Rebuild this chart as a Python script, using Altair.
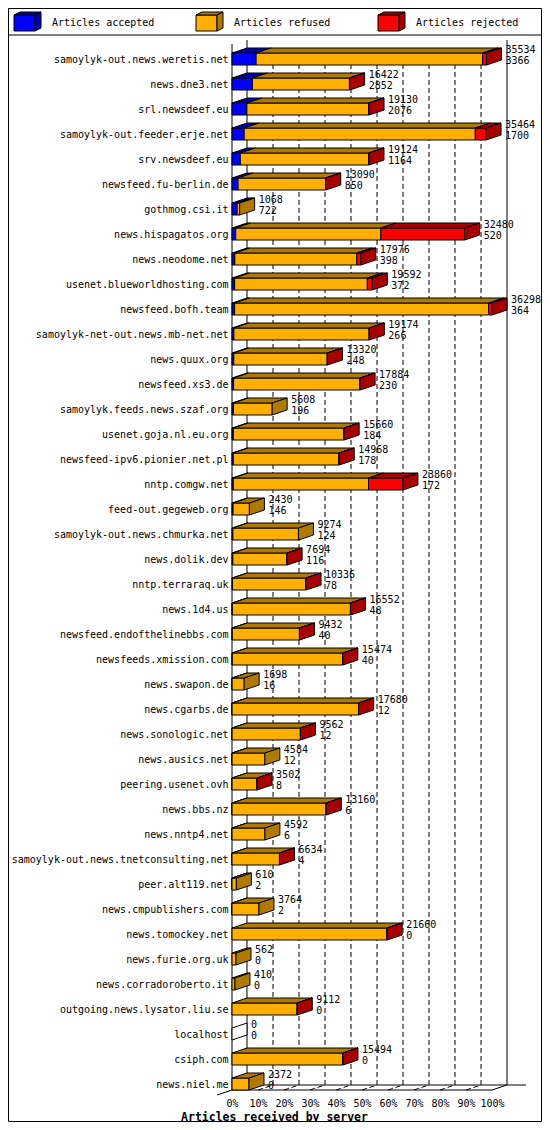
import json

import altair as alt
import pandas as pd

# servers, top to bottom
hosts = [
    "samoylyk-out.news.weretis.net", "news.dne3.net", "srl.newsdeef.eu",
    "samoylyk-out.feeder.erje.net", "srv.newsdeef.eu", "newsfeed.fu-berlin.de",
    "gothmog.csi.it", "news.hispagatos.org", "news.neodome.net",
    "usenet.blueworldhosting.com", "newsfeed.bofh.team",
    "samoylyk-net-out.news.mb-net.net", "news.quux.org", "newsfeed.xs3.de",
    "samoylyk.feeds.news.szaf.org", "usenet.goja.nl.eu.org",
    "newsfeed-ipv6.pionier.net.pl", "nntp.comgw.net", "feed-out.gegeweb.org",
    "samoylyk-out.news.chmurka.net", "news.dolik.dev", "nntp.terraraq.uk",
    "news.1d4.us", "newsfeed.endofthelinebbs.com", "newsfeeds.xmission.com",
    "news.swapon.de", "news.cgarbs.de", "news.sonologic.net", "news.ausics.net",
    "peering.usenet.ovh", "news.bbs.nz", "news.nntp4.net",
    "samoylyk-out.news.tnetconsulting.net", "peer.alt119.net",
    "news.cmpublishers.com", "news.tomockey.net", "news.furie.org.uk",
    "news.corradoroberto.it", "outgoing.news.lysator.liu.se", "localhost",
    "csiph.com", "news.niel.me",
]
offered = [
    35534, 16422, 19130, 35464, 19124, 13090, 1068, 32480, 17976, 19592, 36298,
    19174, 13320, 17884, 5608, 15660, 14968, 23860, 2430, 9274, 7694, 10336,
    16552, 9432, 15474, 1698, 17680, 9562, 4584, 3502, 13160, 4592, 6634, 610,
    3764, 21660, 562, 410, 9112, 0, 15494, 2372,
]
accepted = [
    3366, 2852, 2076, 1700, 1164, 850, 722, 520, 398, 372, 364, 266, 248, 230,
    196, 184, 178, 172, 146, 124, 116, 78, 48, 40, 40, 16, 12, 12, 12, 8, 6, 6,
    4, 2, 2, 0, 0, 0, 0, 0, 0, 0,
]
# estimated from the width of the red part of each bar
rejected = [
    550, 30, 40, 1500, 30, 30, 0, 11700, 550, 700, 460, 30, 30, 30, 0, 30, 30,
    4800, 0, 0, 20, 20, 20, 20, 20, 0, 20, 20, 0, 10, 20, 0, 10, 0, 0, 20, 0, 0,
    20, 0, 20, 0,
]
legend_labels = ["Articles accepted", "Articles refused", "Articles rejected"]
pct_ticks = [0, 10, 20, 30, 40, 50, 60, 70, 80, 90, 100]

FRONT = ["#0000ff", "#ffaf00", "#ff0000"]
DARK = ["#0000a8", "#b07a00", "#a80000"]
FONT = "DejaVu Sans Mono"

# layout in pixels (chart local)
LEFT = 224        # front 0%
PX = 2.6          # px per percent
ROW_PX = 25
ROW0 = 51         # centre of first row
TOP = 32
W = 275
H = 1050
DX = 15 / PX      # 3d depth in percent
DY = 5 / ROW_PX   # 3d depth in rows
HALF = 6 / ROW_PX


def to_x(lx):
    return (lx - LEFT) / PX


def to_y(ly):
    return (ly - ROW0) / ROW_PX


Y_TOP = to_y(TOP)
Y_FLOOR = to_y(TOP + H)
Y_BACK = Y_FLOOR - DY
X_MAX = W / PX

big = max(offered)
fronts, polys, texts = [], [], []


def add_poly(points, fill):
    pid = len(set(p["id"] for p in polys))
    for o, (px, py) in enumerate(points + points[:1]):
        polys.append({"id": pid, "o": o, "x": px, "y": py, "fill": fill})


for i, host in enumerate(hosts):
    parts = [accepted[i], offered[i] - accepted[i] - rejected[i], rejected[i]]
    x = 0.0
    last = None
    for k, v in enumerate(parts):
        if v <= 0:
            continue
        w = v / big * 100
        fronts.append({"x": x, "x2": x + w, "y": i - HALF, "y2": i + HALF, "fill": FRONT[k]})
        add_poly([(x, i - HALF), (x + w, i - HALF), (x + w + DX, i - HALF - DY),
                  (x + DX, i - HALF - DY)], DARK[k])
        x += w
        last = k
    add_poly([(x, i - HALF), (x + DX, i - HALF - DY), (x + DX, i + HALF - DY),
              (x, i + HALF)], DARK[last] if last is not None else "white")
    texts.append({"x": x + DX, "y": i - 0.38, "t": str(offered[i])})
    texts.append({"x": x + DX, "y": i + 0.08, "t": str(accepted[i])})

# legend cubes
for j, lab in enumerate(legend_labels):
    lx = 6 + j * 182
    x0, x1, d = to_x(lx), to_x(lx + 21), 6 / PX
    y0, y1, yt = to_y(7), to_y(23), to_y(4)
    fronts.append({"x": x0, "x2": x1, "y": y0, "y2": y1, "fill": FRONT[j]})
    add_poly([(x0, y0), (x1, y0), (x1 + d, yt), (x0 + d, yt)], DARK[j])
    add_poly([(x1, y0), (x1 + d, yt), (x1 + d, to_y(20)), (x1, y1)], DARK[j])
    texts.append({"x": to_x(lx + 34), "y": to_y(15), "t": lab})

solid = pd.DataFrame([
    {"x": 0, "y": to_y(36), "x2": 0, "y2": Y_FLOOR},
    {"x": DX, "y": Y_TOP, "x2": DX, "y2": Y_BACK},
    {"x": 100 + DX, "y": Y_TOP, "x2": 100 + DX, "y2": Y_BACK},
    {"x": 0, "y": Y_FLOOR, "x2": 100, "y2": Y_FLOOR},
    {"x": DX, "y": Y_BACK, "x2": 100 + DX + 19 / PX, "y2": Y_BACK},
    {"x": -DX, "y": Y_FLOOR + DY, "x2": DX, "y2": Y_BACK},
    {"x": 100, "y": Y_FLOOR, "x2": 100 + DX, "y2": Y_BACK},
    {"x": to_x(0), "y": to_y(27), "x2": to_x(534), "y2": to_y(27)},
])
dashed = pd.DataFrame(
    [{"x": p + DX, "y": -HALF - DY, "x2": p + DX, "y2": Y_BACK} for p in pct_ticks[1:-1]]
    + [{"x": p, "y": Y_FLOOR, "x2": p + DX, "y2": Y_BACK} for p in pct_ticks[1:-1]]
)
frame = pd.DataFrame([{"x": to_x(0.5), "x2": to_x(533.5), "y": to_y(0.5), "y2": to_y(1113.5)}])

xs = alt.Scale(domain=[0, X_MAX], zero=False, nice=False)
ys = alt.Scale(domain=[Y_TOP, Y_FLOOR], zero=False, nice=False, reverse=True)

x_axis = alt.Axis(
    values=pct_ticks, labelExpr="datum.value + '%'", domain=False, ticks=False,
    tickSize=0, grid=False, labelPadding=8, labelFlush=False, labelOverlap=False,
    labelFont=FONT, labelFontSize=10, labelColor="black",
    title="Articles received by server", titleFont=FONT, titleFontSize=11.5,
    titleFontWeight="bold", titleColor="black", titleX=42, titleY=27,
    titleAlign="center", titleBaseline="middle",
)
y_axis = alt.Axis(
    values=list(range(len(hosts))), labelExpr=json.dumps(hosts) + "[datum.value]",
    domain=False, ticks=False, tickSize=0, grid=False, labelPadding=4,
    labelOverlap=False, labelFlush=False, labelLimit=0, labelFont=FONT,
    labelFontSize=10, labelColor="black", title="",
)
X = alt.X("x:Q", scale=xs, axis=x_axis, title="Articles received by server")
Y = alt.Y("y:Q", scale=ys, axis=y_axis, title="")

border = alt.Chart(frame).mark_rect(fill="transparent", stroke="black", strokeWidth=1).encode(
    x=X, x2="x2:Q", y=Y, y2="y2:Q",
)
grid = alt.Chart(dashed).mark_rule(color="black", strokeWidth=1, strokeDash=[5, 3]).encode(
    x=X, x2="x2:Q", y=Y, y2="y2:Q",
)
walls = alt.Chart(solid).mark_rule(color="black", strokeWidth=1).encode(
    x=X, x2="x2:Q", y=Y, y2="y2:Q",
)
front = alt.Chart(pd.DataFrame(fronts)).mark_rect(stroke="black", strokeWidth=1).encode(
    x=X, x2="x2:Q", y=Y, y2="y2:Q",
    fill=alt.Fill("fill:N", scale=None),
)
faces = alt.Chart(pd.DataFrame(polys)).mark_line(stroke="black", strokeWidth=1, interpolate="linear").encode(
    x=X, y=Y,
    detail="id:N", order="o:Q",
    fill=alt.Fill("fill:N", scale=None),
)
labels = alt.Chart(pd.DataFrame(texts)).mark_text(
    align="left", baseline="middle", dx=4, font=FONT, fontSize=10, color="black"
).encode(
    x=X, y=Y, text="t:N",
)

chart = (
    alt.layer(border, grid, walls, front, faces, labels)
    .properties(
        width=W, height=H,
        autosize=alt.AutoSizeParams(type="none"),
        padding={"left": LEFT, "top": TOP, "right": 534 - LEFT - W, "bottom": 1114 - TOP - H},
        background="white",
    )
    .configure_view(stroke=None)
)
chart.save("out.html", embed_options={"renderer": "svg", "actions": False})
